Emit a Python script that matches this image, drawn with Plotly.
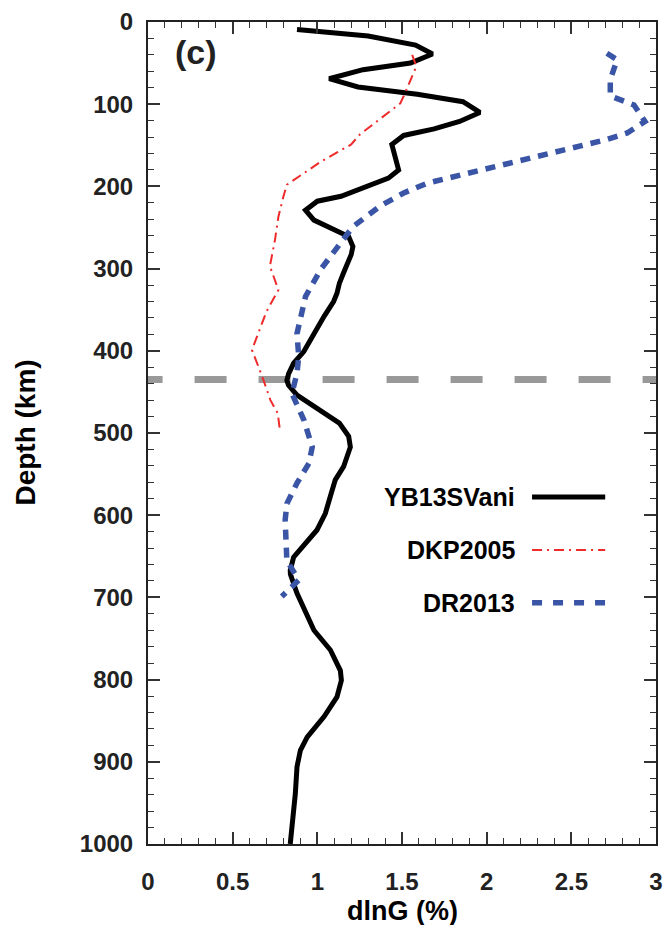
import plotly.graph_objects as go

# YB13SVani (depth km, dlnG %)
yb_depth = [9, 17, 28, 39, 50, 58, 69, 79, 88, 97, 110, 121, 130, 138, 149, 164, 180, 190, 200, 212,
            218, 229, 241, 252, 261, 273, 283, 305, 318, 330, 340, 358, 379, 401, 415, 428, 436, 442,
            454, 470, 488, 504, 517, 541, 557, 577, 598, 618, 634, 651, 667, 672, 695, 717, 740, 764,
            789, 801, 821, 845, 870, 886, 906, 939, 963, 1000]
yb_val = [0.88, 1.30, 1.58, 1.68, 1.55, 1.27, 1.07, 1.24, 1.59, 1.86, 1.96, 1.84, 1.69, 1.51, 1.44, 1.46,
          1.48, 1.42, 1.30, 1.14, 1.00, 0.93, 0.98, 1.10, 1.185, 1.21, 1.20, 1.155, 1.13, 1.116, 1.096,
          1.04, 0.98, 0.92, 0.86, 0.83, 0.82, 0.83, 0.88, 1.00, 1.13, 1.185, 1.195, 1.155, 1.106, 1.077,
          1.047, 0.998, 0.93, 0.86, 0.84, 0.841, 0.88, 0.93, 0.98, 1.077, 1.136, 1.142, 1.116, 1.04,
          0.94, 0.90, 0.88, 0.87, 0.86, 0.84]

# DKP2005
dkp_depth = [40, 54, 90, 99, 137, 149, 170, 198, 212, 237, 265, 297, 326, 352, 399, 431, 460, 476, 498]
dkp_val = [1.56, 1.585, 1.51, 1.49, 1.25, 1.20, 1.02, 0.82, 0.80, 0.77, 0.75, 0.72, 0.77, 0.70, 0.614,
           0.674, 0.723, 0.766, 0.78]

# DR2013
dr_depth = [38, 46, 70, 90, 101, 121, 135, 143, 155, 168, 182, 196, 208, 224, 249, 273, 301, 334, 342,
            379, 407, 427, 452, 484, 517, 537, 561, 586, 606, 638, 655, 679, 699]
dr_val = [2.71, 2.77, 2.73, 2.73, 2.87, 2.935, 2.83, 2.71, 2.47, 2.22, 1.92, 1.65, 1.51, 1.37, 1.21, 1.12,
          1.02, 0.93, 0.92, 0.88, 0.89, 0.88, 0.85, 0.92, 0.97, 0.95, 0.88, 0.82, 0.81, 0.82, 0.82, 0.89,
          0.79]

# discontinuity
disc_depth = 435
disc_x = [-0.103, 3.0]

x_ticks = [0, 0.5, 1, 1.5, 2, 2.5, 3]
x_ticklabels = ["0", "0.5", "1", "1.5", "2", "2.5", "3"]
y_ticks = [0, 100, 200, 300, 400, 500, 600, 700, 800, 900, 1000]

names = ["YB13SVani", "DKP2005", "DR2013"]
colors = ["#000000", "#ee2a2a", "#3a55a6"]
widths = [5, 2, 5.5]
dashes = ["solid", "10px,5px,2px,5px", "10px,8px"]
legend_dashes = ["solid", "10px,5px,2px,5px", "10px,11px"]

FONT = "Liberation Sans, Arial, sans-serif"

fig = go.Figure()
fig.add_trace(go.Scatter(x=disc_x, y=[disc_depth, disc_depth], mode="lines",
                         line=dict(color="#999999", width=7, dash="32px,32px"),
                         showlegend=False, hoverinfo="skip"))
for nm, xs, ys, c, w, d in zip(names, [yb_val, dkp_val, dr_val], [yb_depth, dkp_depth, dr_depth],
                               colors, widths, dashes):
    fig.add_trace(go.Scatter(x=xs, y=ys, mode="lines", name=nm,
                             line=dict(color=c, width=w, dash=d), showlegend=False))

axis_common = dict(showline=True, linecolor="#222222", linewidth=2, mirror="allticks",
                   ticks="inside", ticklen=12, tickwidth=1.5, tickcolor="#333333",
                   showgrid=False, zeroline=False, automargin=False,
                   tickfont=dict(family=FONT, size=24, color="#222222", weight="bold"))

fig.update_xaxes(range=[0, 3], tickmode="array", tickvals=x_ticks, ticktext=x_ticklabels,
                 tickangle=0,
                 minor=dict(dtick=0.1, tick0=0, ticks="inside", ticklen=6, tickcolor="#333333",
                            tickwidth=1.2),
                 ticklabelstandoff=15, **axis_common)
fig.update_yaxes(range=[1000, 0], tickmode="array", tickvals=y_ticks,
                 ticktext=[str(v) for v in y_ticks],
                 minor=dict(dtick=20, tick0=0, ticks="inside", ticklen=6, tickcolor="#333333",
                            tickwidth=1.2),
                 ticklabelstandoff=8, **axis_common)

annotations = [
    dict(text="(c)", x=0.095, y=0.964, xref="paper", yref="paper", showarrow=False,
         xanchor="center", yanchor="middle",
         font=dict(family=FONT, size=34, color="#222222", weight="bold")),
    dict(text="Depth (km)", x=-0.243, y=0.5, xref="paper", yref="paper", showarrow=False,
         xanchor="center", yanchor="middle",
         textangle=-90, font=dict(family=FONT, size=28, color="#000000", weight="bold")),
    dict(text="dlnG (%)", x=0.5, y=-0.081, xref="paper", yref="paper", showarrow=False,
         xanchor="center", yanchor="middle",
         font=dict(family=FONT, size=27, color="#000000", weight="bold")),
]
leg_y = [0.4221, 0.3576, 0.2934]
shapes = []
for nm, c, w, d, ly in zip(names, colors, widths, legend_dashes, leg_y):
    annotations.append(dict(text=nm, x=0.7266, y=ly, xref="paper", yref="paper", showarrow=False,
                            xanchor="right", yanchor="middle",
                            font=dict(family=FONT, size=25, color="#000000", weight="bold")))
    shapes.append(dict(type="line", xref="paper", yref="paper", x0=0.756, x1=0.90, y0=ly, y1=ly,
                       line=dict(color=c, width=w, dash=d)))

fig.update_layout(width=666, height=925, margin=dict(l=147.5, r=10, t=22, b=81),
                  paper_bgcolor="white", plot_bgcolor="white",
                  annotations=annotations, shapes=shapes, showlegend=False)

fig.write_html("out.html")
